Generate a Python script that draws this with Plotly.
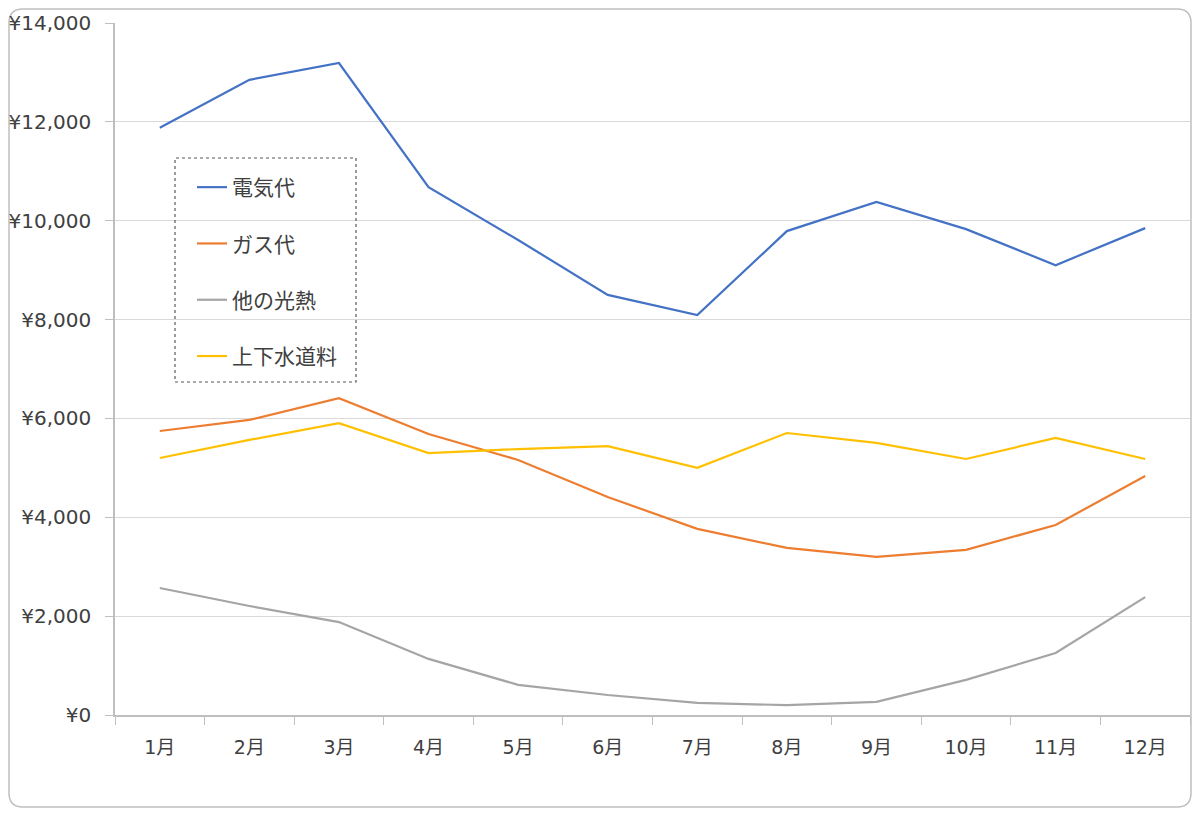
import plotly.graph_objects as go

months = ["1月", "2月", "3月", "4月", "5月", "6月", "7月", "8月", "9月", "10月", "11月", "12月"]

denki = [11880, 12850, 13190, 10680, 9610, 8500, 8090, 9790, 10380, 9830, 9100, 9850]
gas = [5745, 5970, 6410, 5685, 5160, 4410, 3765, 3380, 3200, 3340, 3845, 4835]
sonota = [2570, 2205, 1880, 1135, 610, 405, 245, 200, 265, 710, 1255, 2385]
suido = [5200, 5565, 5905, 5300, 5380, 5440, 5000, 5705, 5505, 5180, 5605, 5180]

series_names = ["電気代", "ガス代", "他の光熱", "上下水道料"]
series_colors = ["#4472C4", "#ED7D31", "#A5A5A5", "#FFC000"]

# ページの余白（body margin）を考慮
OX, OY = 8, 8
W, H = 1184, 800
L, T = 115 - OX, 23 - OY
R = OX + W - 1190
B = OY + H - 715
pw, ph = W - L - R, H - T - B


def px2paper(x, y):
    # ページ上のピクセル座標 -> paper 座標
    return (x - OX - L) / pw, 1 - (y - OY - T) / ph


fig = go.Figure()
for name, vals, col in zip(series_names, [denki, gas, sonota, suido], series_colors):
    fig.add_trace(go.Scatter(
        x=months, y=vals, name=name, mode="lines",
        line=dict(color=col, width=2.2),
        legendgroup=name,
    ))

# 外枠（角丸）
x0, y0, x1, y1, r = OX + 1, OY + 1, OX + W - 1, OY + H - 1, 14


def P(x, y):
    a, b = px2paper(x, y)
    return f"{a:.5f},{b:.5f}"


path = (f"M {P(x0 + r, y0)} L {P(x1 - r, y0)} Q {P(x1, y0)} {P(x1, y0 + r)} "
        f"L {P(x1, y1 - r)} Q {P(x1, y1)} {P(x1 - r, y1)} "
        f"L {P(x0 + r, y1)} Q {P(x0, y1)} {P(x0, y1 - r)} "
        f"L {P(x0, y0 + r)} Q {P(x0, y0)} {P(x0 + r, y0)} Z")
fig.add_shape(type="path", xref="paper", yref="paper", path=path,
              line=dict(color="#BFBFBF", width=1.5), layer="below")

# 凡例の点線枠（塗りなし）
lx0, ly0 = px2paper(175, 158)
lx1, ly1 = px2paper(356, 382)
fig.add_shape(type="rect", xref="paper", yref="paper",
              x0=lx0, y0=ly1, x1=lx1, y1=ly0,
              line=dict(color="#595959", width=1.2, dash="dot"),
              layer="above")

lgx, lgy = px2paper(192, 167)

font_family = "DejaVu Sans, Noto Sans CJK JP"

fig.update_layout(
    width=W, height=H,
    margin=dict(l=L, r=R, t=T, b=B, autoexpand=False),
    plot_bgcolor="white",
    paper_bgcolor="white",
    font=dict(family=font_family, size=20, color="#404040"),
    showlegend=True,
    legend=dict(
        x=lgx, y=lgy, xanchor="left", yanchor="top",
        bgcolor="rgba(0,0,0,0)", borderwidth=0,
        tracegroupgap=26,
        font=dict(family="Noto Sans CJK JP", size=21, color="#404040"),
        itemwidth=30,
    ),
    xaxis=dict(
        type="category", range=[-0.5, 11.5],
        showgrid=False, showline=True, linecolor="#BFBFBF", linewidth=1.5,
        ticks="outside", ticklen=8, tickcolor="#BFBFBF", tickson="boundaries",
        ticklabelstandoff=14, automargin=False,
        tickfont=dict(size=19, color="#404040"),
    ),
    yaxis=dict(
        range=[0, 14000], dtick=2000,
        tickprefix="¥", tickformat=",d",
        showgrid=True, gridcolor="#D9D9D9", gridwidth=1.2,
        showline=True, linecolor="#BFBFBF", linewidth=1.5,
        ticks="outside", ticklen=8, tickcolor="#BFBFBF",
        ticklabelstandoff=10, automargin=False,
        zeroline=False,
        tickfont=dict(size=20, color="#404040"),
    ),
)

fig.write_html("out.html")
